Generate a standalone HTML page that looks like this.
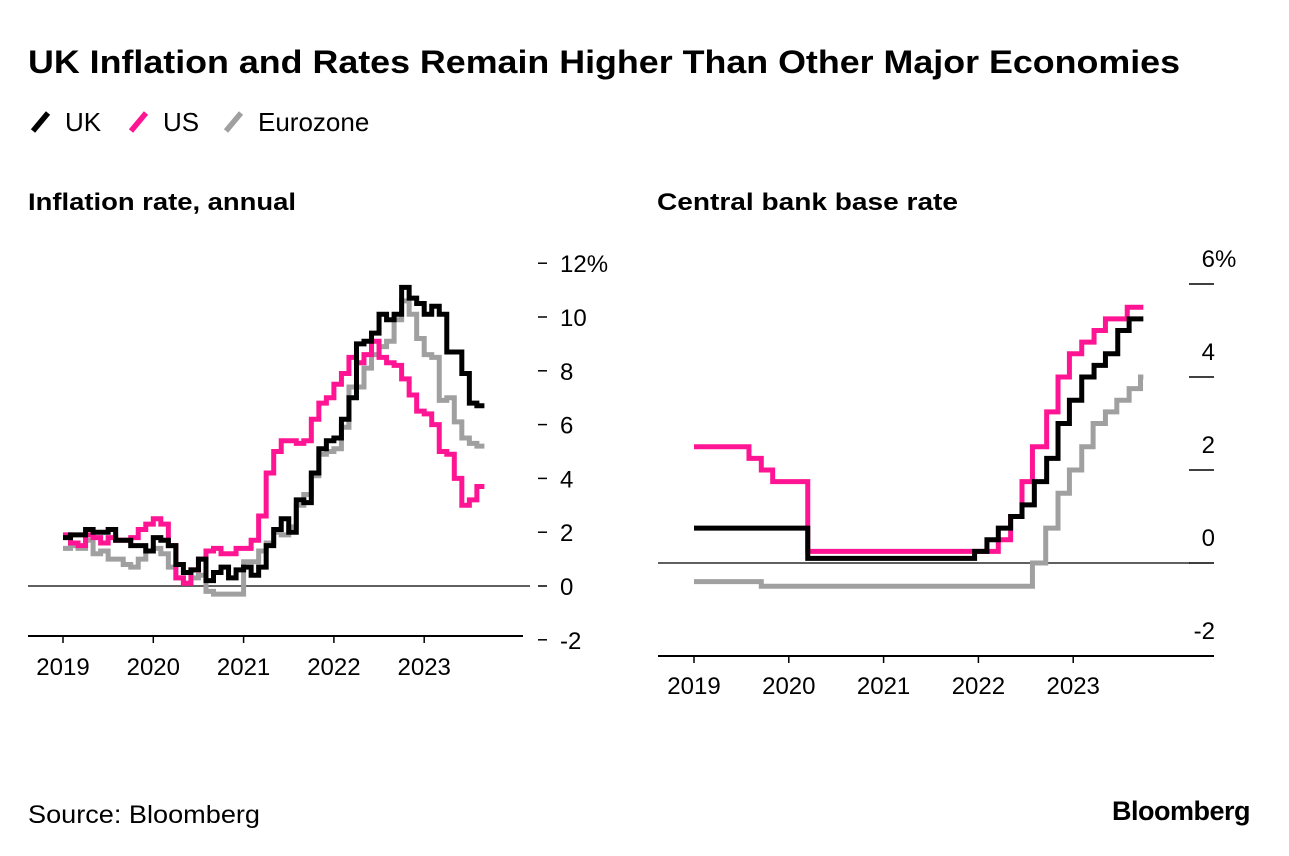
<!DOCTYPE html>
<html><head><meta charset="utf-8"><style>
body{margin:0;background:#fff;}
svg{display:block;font-family:"Liberation Sans",sans-serif;}
</style></head><body>
<svg width="1289" height="856" viewBox="0 0 1289 856">
<text x="28" y="73" font-size="32" font-weight="bold" fill="#000" textLength="1152" lengthAdjust="spacingAndGlyphs">UK Inflation and Rates Remain Higher Than Other Major Economies</text>
<g>
 <g><line x1="33" y1="131" x2="48" y2="113" stroke="#000" stroke-width="5.5"/><text x="65" y="131" font-size="26">UK</text></g>
 <g><line x1="131" y1="131" x2="146" y2="113" stroke="#ff1493" stroke-width="5.5"/><text x="163" y="131" font-size="26">US</text></g>
 <g><line x1="226" y1="131" x2="241" y2="113" stroke="#a0a0a0" stroke-width="5.5"/><text x="258" y="131" font-size="26">Eurozone</text></g>
</g>
<text x="28" y="210" font-size="24" font-weight="bold" textLength="268" lengthAdjust="spacingAndGlyphs">Inflation rate, annual</text>
<text x="657" y="210" font-size="24" font-weight="bold" textLength="301" lengthAdjust="spacingAndGlyphs">Central bank base rate</text>
<g id="left"></g>
<g id="right"></g>
<text x="28" y="823" font-size="25" textLength="232" lengthAdjust="spacingAndGlyphs">Source: Bloomberg</text>
<text x="1250" y="820" font-size="27" font-weight="bold" text-anchor="end" letter-spacing="-0.5">Bloomberg</text>
</svg>
<script>
const NS="http://www.w3.org/2000/svg";
// ---- data ----
const years=["2019","2020","2021","2022","2023"];
const leftTicks=[12,10,8,6,4,2,0,-2];
const rightTicks=[6,4,2,0,-2];
const ukCPI=[1.8,1.9,1.9,2.1,2.0,2.0,2.1,1.7,1.7,1.5,1.5,1.3,1.8,1.7,1.5,0.8,0.5,0.6,1.0,0.2,0.5,0.7,0.3,0.6,0.7,0.4,0.7,1.5,2.1,2.5,2.0,3.2,3.1,4.2,5.1,5.4,5.5,6.2,7.0,9.0,9.1,9.4,10.1,9.9,10.1,11.1,10.7,10.5,10.1,10.4,10.1,8.7,8.7,7.9,6.8,6.7];
const usCPI=[1.9,1.6,1.5,1.9,1.8,1.6,1.8,1.7,1.7,1.8,2.1,2.3,2.5,2.3,1.5,0.3,0.1,0.6,1.0,1.3,1.4,1.2,1.2,1.4,1.4,1.7,2.6,4.2,5.0,5.4,5.4,5.3,5.4,6.2,6.8,7.0,7.5,7.9,8.5,8.3,8.6,9.1,8.5,8.3,8.2,7.7,7.1,6.5,6.4,6.0,5.0,4.9,4.0,3.0,3.2,3.7];
const ezCPI=[1.4,1.5,1.4,1.7,1.2,1.3,1.0,1.0,0.8,0.7,1.0,1.3,1.4,1.2,0.7,0.3,0.1,0.3,0.4,-0.2,-0.3,-0.3,-0.3,-0.3,0.9,0.9,1.3,1.6,2.0,1.9,2.2,3.0,3.4,4.1,4.9,5.0,5.1,5.9,7.4,7.4,8.1,8.6,8.9,9.1,9.9,10.6,10.1,9.2,8.6,8.5,6.9,7.0,6.1,5.5,5.3,5.2];
const usRateDates=[0,0.58,0.71,0.83,1.2,3.21,3.34,3.46,3.57,3.72,3.84,3.96,4.09,4.22,4.34,4.57,4.74];
const usRates=[2.5,2.25,2.0,1.75,0.25,0.5,1.0,1.75,2.5,3.25,4.0,4.5,4.75,5.0,5.25,5.5,5.5];
const ukRateDates=[0,1.2,2.96,3.09,3.21,3.34,3.46,3.59,3.72,3.84,3.96,4.09,4.22,4.34,4.47,4.59,4.74];
const ukRates=[0.75,0.1,0.25,0.5,0.75,1.0,1.25,1.75,2.25,3.0,3.5,4.0,4.25,4.5,5.0,5.25,5.25];
const ezRateDates=[0,0.71,3.57,3.71,3.84,3.96,4.09,4.21,4.34,4.46,4.59,4.71,4.74];
const ezRates=[-0.4,-0.5,0.0,0.75,1.5,2.0,2.5,3.0,3.25,3.5,3.75,4.0,4.0];
// ---- scales ----
const lx=t=>63+t*90.3, ly=v=>586-v*26.9;
const rx=t=>694+t*94.8, ry=v=>563-v*46.5;
function mk(tag,attrs,parent){const e=document.createElementNS(NS,tag);for(const k in attrs)e.setAttribute(k,attrs[k]);parent.appendChild(e);return e;}
const L=document.getElementById('left'), R=document.getElementById('right');
let e=mk('line',{x1:28,x2:530,y1:ly(0),y2:ly(0),stroke:'#000','stroke-width':1.2},L);


e=mk('line',{x1:28,x2:523,y1:636,y2:636,stroke:'#000','stroke-width':2},L);


years.forEach((y,i)=>{
 mk('line',{x1:lx(i),x2:lx(i),y1:636,y2:643,stroke:'#000','stroke-width':1.5},L);
 const t=mk('text',{x:lx(i),y:675,'font-size':24,'text-anchor':'middle'},L);t.textContent=y;
 
 
});
leftTicks.forEach(v=>{
 mk('line',{x1:538,x2:547,y1:ly(v),y2:ly(v),stroke:'#000','stroke-width':1.5},L);
 const t=mk('text',{x:560,y:ly(v)+9,'font-size':24},L);t.textContent=v+(v===12?'%':'');
 
 
});
function monthly(arr,color,name){
 let d='';arr.forEach((v,i)=>{const x0=lx(i/12),x1=lx((i+1)/12),y=ly(v);d+=(i?'L':'M')+x0+' '+y+'L'+x1+' '+y;});
 const p=mk('path',{d:d,fill:'none',stroke:color,'stroke-width':5,'stroke-linejoin':'miter'},L);
 
 
}
monthly(ezCPI,'#a0a0a0','eurozone-inflation-line');
monthly(usCPI,'#ff1493','us-inflation-line');
monthly(ukCPI,'#000','uk-inflation-line');
e=mk('line',{x1:658,x2:1190,y1:ry(0),y2:ry(0),stroke:'#000','stroke-width':1.2},R);


e=mk('line',{x1:658,x2:1214,y1:656,y2:656,stroke:'#000','stroke-width':2},R);


years.forEach((y,i)=>{
 mk('line',{x1:rx(i),x2:rx(i),y1:656,y2:663,stroke:'#000','stroke-width':1.5},R);
 const t=mk('text',{x:rx(i),y:694,'font-size':24,'text-anchor':'middle'},R);t.textContent=y;
 
 
});
rightTicks.forEach(v=>{
 if(v>-2) mk('line',{x1:1189,x2:1214,y1:ry(v),y2:ry(v),stroke:'#000','stroke-width':1.5},R);
 const t=mk('text',{x:1215,y:ry(v)-17,'font-size':24,'text-anchor':'end'},R);t.textContent=String(v);
 
 
 if(v===6){const p=mk('text',{x:1215,y:ry(v)-17,'font-size':24},R);p.textContent='%';}
});
function steps(dates,vals,color,name){
 let d='';dates.forEach((t,i)=>{const x=rx(t),y=ry(vals[i]);if(i===0)d+='M'+x+' '+y;else d+='L'+x+' '+ry(vals[i-1])+'L'+x+' '+y;});
 const p=mk('path',{d:d,fill:'none',stroke:color,'stroke-width':5},R);
 
 
}
steps(ezRateDates,ezRates,'#a0a0a0','eurozone-rate-line');
steps(usRateDates,usRates,'#ff1493','us-rate-line');
steps(ukRateDates,ukRates,'#000','uk-rate-line');
</script>
</body></html>
